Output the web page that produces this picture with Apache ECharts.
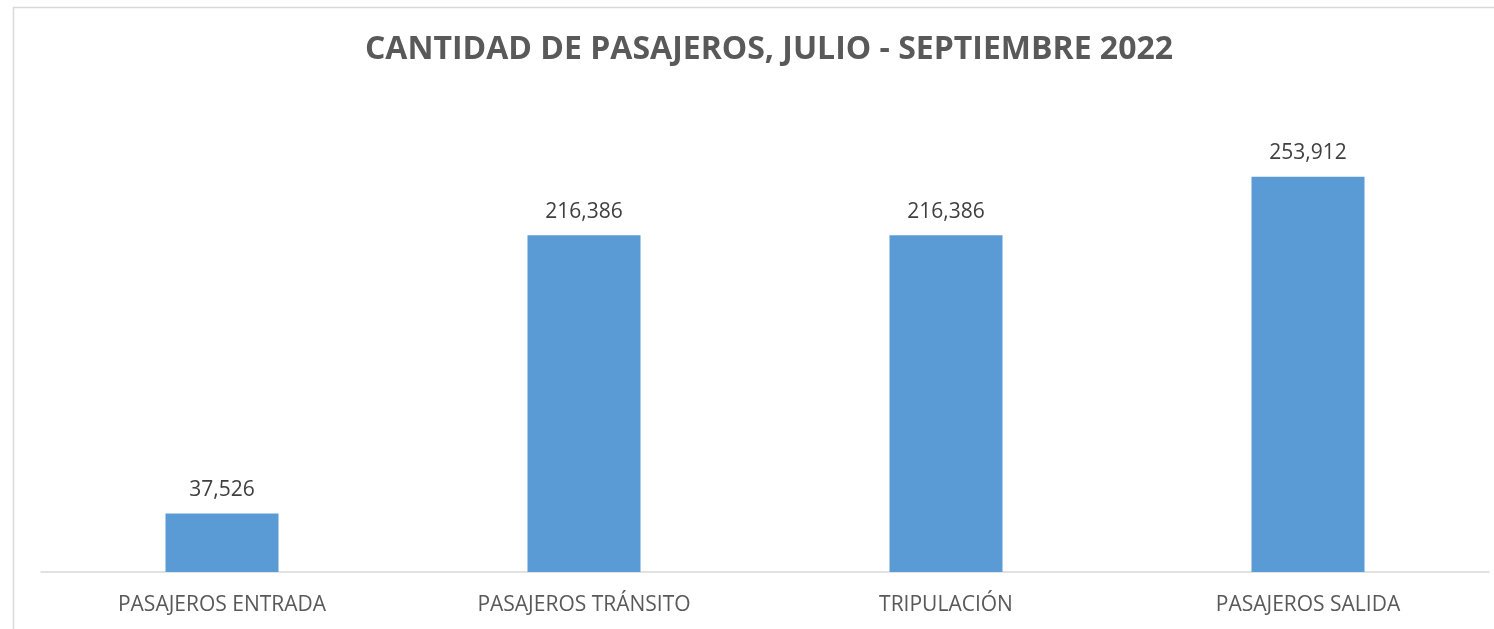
<!DOCTYPE html>
<html><head><meta charset="utf-8">
<script src="https://cdn.jsdelivr.net/npm/echarts@6/dist/echarts.min.js"></script>
<style>html,body{margin:0;padding:0;background:#fff}#c{width:1494px;height:629px}</style>
</head><body><div id="c"></div>
<script>
const titleText = 'CANTIDAD DE PASAJEROS, JULIO - SEPTIEMBRE 2022';
const categories = ['PASAJEROS ENTRADA', 'PASAJEROS TRÁNSITO', 'TRIPULACIÓN', 'PASAJEROS SALIDA'];
const values = [37526, 216386, 216386, 253912];

const chart = echarts.init(document.getElementById('c'), null, {renderer: 'canvas'});
chart.setOption({
  animation: false,
  backgroundColor: '#fff',
  graphic: [{
    type: 'rect', left: 11, top: 5, silent: true,
    shape: {width: 1600, height: 700},
    style: {fill: 'none', stroke: '#d9d9d9', lineWidth: 1.5}
  }],
  title: {
    text: titleText, left: 764, textAlign: 'center', top: 29,
    textStyle: {fontFamily: 'Open Sans', fontWeight: 'bold', fontSize: 32, color: '#595959'}
  },
  grid: {left: 41, right: 5, top: 105, bottom: 57, containLabel: false},
  xAxis: {
    type: 'category', data: categories,
    axisLine: {lineStyle: {color: '#d9d9d9', width: 1.5}},
    axisTick: {show: false},
    axisLabel: {margin: 23, color: '#595959', fontFamily: 'Open Sans', fontSize: 21}
  },
  yAxis: {type: 'value', min: 0, max: 300000, show: false, splitLine: {show: false}},
  series: [{
    type: 'bar', data: values, barWidth: 113,
    itemStyle: {color: '#5b9bd5'},
    label: {
      show: true, position: 'top', distance: 13, color: '#404040',
      fontFamily: 'Open Sans', fontSize: 21,
      formatter: p => p.value.toLocaleString('en-US')
    }
  }]
});
</script></body></html>
